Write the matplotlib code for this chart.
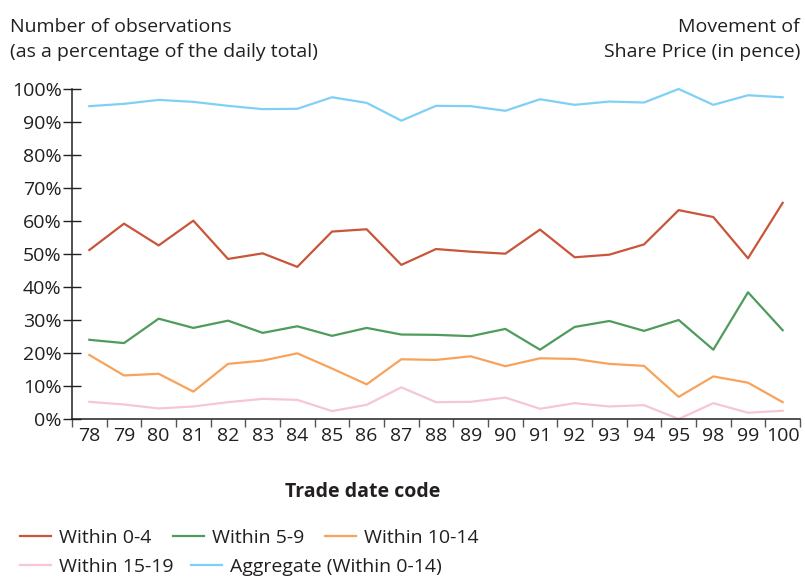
import matplotlib
matplotlib.use("Agg")
import matplotlib.pyplot as plt
from matplotlib.ticker import FuncFormatter

categories = ["78", "79", "80", "81", "82", "83", "84", "85", "86", "87", "88",
              "89", "90", "91", "92", "93", "94", "95", "98", "99", "100"]
within_0_4 = [51.2, 59.2, 52.6, 60.1, 48.5, 50.2, 46.1, 56.8, 57.5, 46.7, 51.5,
              50.7, 50.1, 57.4, 49.0, 49.8, 52.9, 63.3, 61.2, 48.7, 65.5]
within_5_9 = [24.0, 23.0, 30.4, 27.6, 29.8, 26.1, 28.1, 25.2, 27.6, 25.6, 25.5,
              25.1, 27.3, 21.0, 27.9, 29.7, 26.7, 30.0, 21.0, 38.4, 26.9]
within_10_14 = [19.4, 13.2, 13.7, 8.3, 16.7, 17.7, 19.9, 15.3, 10.5, 18.1, 17.9,
                19.0, 16.0, 18.4, 18.2, 16.7, 16.1, 6.7, 12.9, 11.0, 5.1]
within_15_19 = [5.2, 4.4, 3.2, 3.8, 5.1, 6.1, 5.8, 2.4, 4.3, 9.6, 5.1,
                5.2, 6.5, 3.1, 4.8, 3.8, 4.2, 0.0, 4.8, 1.9, 2.5]
aggregate = [94.8, 95.5, 96.7, 96.1, 94.9, 93.9, 94.0, 97.5, 95.8, 90.4, 94.9,
             94.8, 93.4, 96.9, 95.2, 96.2, 95.9, 100.0, 95.2, 98.1, 97.5]
y_ticks = [0, 10, 20, 30, 40, 50, 60, 70, 80, 90, 100]

plt.rcParams['font.family'] = ['Open Sans', 'DejaVu Sans']
text_color = "#231f20"

fig = plt.figure(figsize=(8.05, 5.77), dpi=100)
ax = fig.add_axes([72/805, 1 - 419/577, 728/805, 330/577])

x = list(range(len(categories)))
series = [
    ("Within 0-4", within_0_4, "#c9553a"),
    ("Within 5-9", within_5_9, "#4f9b5c"),
    ("Within 10-14", within_10_14, "#f7a35c"),
    ("Within 15-19", within_15_19, "#f6c5da"),
    ("Aggregate (Within 0-14)", aggregate, "#7fd0f5"),
]
lines = {}
for name, vals, col in series:
    ln, = ax.plot(x, vals, color=col, lw=1.6, label=name, clip_on=False)
    lines[name] = ln

ax.set_xlim(-0.5, len(categories) - 0.5)
ax.set_ylim(0, 100)
ax.set_xticks([i - 0.5 for i in range(len(categories) + 1)])
ax.set_xticklabels([])
ax.set_xticks(x, minor=True)
ax.set_xticklabels(categories, minor=True)
ax.tick_params(axis='x', which='major', direction='out', length=6, width=1, color="#555555")
ax.tick_params(axis='x', which='minor', length=0, pad=6, labelsize=14, labelcolor=text_color)
ax.set_yticks(y_ticks)
ax.yaxis.set_major_formatter(FuncFormatter(lambda v, p: f"{int(v)}%"))
ax.tick_params(axis='y', direction='inout', length=13, width=1, color=text_color,
               labelsize=14, labelcolor=text_color, pad=1)
for s in ['top', 'right']:
    ax.spines[s].set_visible(False)
for s in ['left', 'bottom']:
    ax.spines[s].set_color(text_color)
    ax.spines[s].set_linewidth(1.1)

fs_t = 14
fig.text(10/805, 1 - 27/577, "Number of observations", fontsize=fs_t, color=text_color,
         ha='left', va='center')
fig.text(10/805, 1 - 52/577, "(as a percentage of the daily total)", fontsize=fs_t,
         color=text_color, ha='left', va='center')
fig.text(800/805, 1 - 27/577, "Movement of", fontsize=fs_t, color=text_color,
         ha='right', va='center')
fig.text(800/805, 1 - 52/577, "Share Price (in pence)", fontsize=fs_t, color=text_color,
         ha='right', va='center')
fig.text(363/805, 1 - 492/577, "Trade date code", fontsize=14, fontweight='bold',
         color=text_color, ha='center', va='center')

leg1 = fig.legend([lines[n] for n in ["Within 0-4", "Within 5-9", "Within 10-14"]],
                  ["Within 0-4", "Within 5-9", "Within 10-14"],
                  loc='center left', bbox_to_anchor=(20/805, 1 - 538/577), ncol=3,
                  frameon=False, fontsize=14, handlelength=1.6, handletextpad=0.4,
                  columnspacing=1.1, labelcolor=text_color, borderaxespad=0, borderpad=0)
leg2 = fig.legend([lines[n] for n in ["Within 15-19", "Aggregate (Within 0-14)"]],
                  ["Within 15-19", "Aggregate (Within 0-14)"],
                  loc='center left', bbox_to_anchor=(20/805, 1 - 567/577), ncol=2,
                  frameon=False, fontsize=14, handlelength=1.6, handletextpad=0.4,
                  columnspacing=0.9, labelcolor=text_color, borderaxespad=0, borderpad=0)

fig.savefig("out.png", dpi=100)
